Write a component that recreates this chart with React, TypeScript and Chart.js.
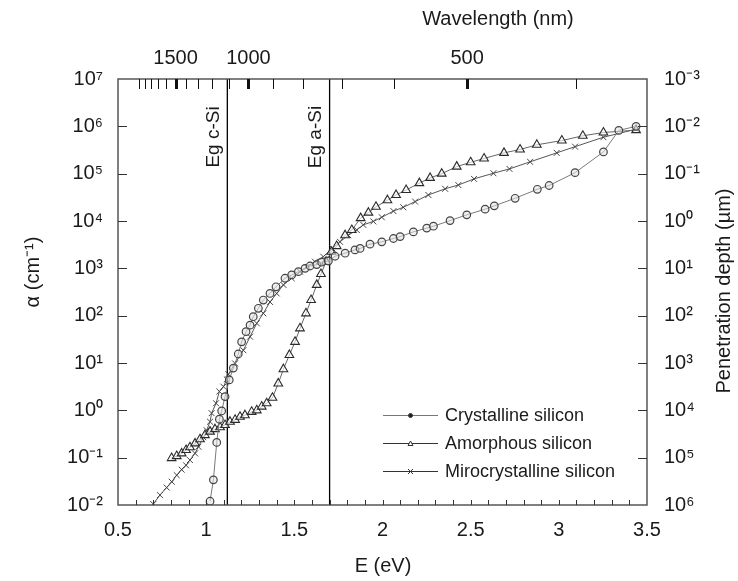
import React, { useEffect, useRef } from 'react';
import { Chart, registerables } from 'chart.js';

Chart.register(...registerables);

// ---------- data ----------
const HC = 1239.84; // eV·nm, photon energy <-> wavelength

const energyTicks = [0.5, 1, 1.5, 2, 2.5, 3, 3.5];
const alphaExponents = [-2, -1, 0, 1, 2, 3, 4, 5, 6, 7];
const depthExponents = [-3, -2, -1, 0, 1, 2, 3, 4, 5, 6];
const wavelengthTicks = [2000, 1900, 1800, 1700, 1600, 1500, 1400, 1300, 1200, 1100, 1000, 900, 800, 700, 600, 500, 400];
const wavelengthLabeled = [1500, 1000, 500];

const seriesNames = ['Crystalline silicon', 'Amorphous silicon', 'Mirocrystalline silicon'];

const cSiEnergy = [1.022, 1.041, 1.06, 1.075, 1.088, 1.107, 1.131, 1.154, 1.182, 1.201, 1.226, 1.249, 1.267, 1.296, 1.324, 1.362, 1.396, 1.447, 1.485, 1.523, 1.561, 1.589, 1.627, 1.655, 1.693, 1.731, 1.788, 1.844, 1.873, 1.929, 1.996, 2.062, 2.1, 2.175, 2.251, 2.289, 2.383, 2.478, 2.582, 2.634, 2.752, 2.878, 2.945, 3.092, 3.253, 3.34, 3.438];
const cSiAlpha = [0.012, 0.034, 0.21, 0.65, 0.97, 1.95, 4.4, 7.8, 15.5, 28, 46, 63, 95, 143, 214, 295, 407, 617, 724, 851, 1000, 1120, 1200, 1350, 1430, 1800, 2090, 2450, 2630, 3240, 3630, 4270, 4680, 5890, 7080, 7760, 10200, 13500, 17800, 20900, 30200, 46800, 56200, 105000, 288000, 820000, 1000000];

const aSiEnergy = [0.804, 0.833, 0.861, 0.886, 0.908, 0.937, 0.965, 0.993, 1.022, 1.05, 1.079, 1.107, 1.135, 1.164, 1.192, 1.22, 1.258, 1.287, 1.315, 1.343, 1.376, 1.409, 1.438, 1.472, 1.504, 1.532, 1.566, 1.595, 1.627, 1.651, 1.68, 1.71, 1.74, 1.788, 1.826, 1.876, 1.92, 1.963, 2.028, 2.077, 2.134, 2.209, 2.27, 2.336, 2.421, 2.5, 2.576, 2.689, 2.78, 2.875, 3.017, 3.136, 3.253, 3.438];
const aSiAlpha = [0.098, 0.108, 0.123, 0.145, 0.166, 0.2, 0.245, 0.3, 0.355, 0.4, 0.44, 0.49, 0.575, 0.63, 0.73, 0.79, 0.93, 1.0, 1.2, 1.41, 1.84, 3.7, 7.4, 14.8, 28, 54, 112, 214, 447, 759, 1380, 2240, 2950, 5010, 6460, 11500, 15000, 20000, 27500, 35500, 45200, 63100, 81300, 100000, 141000, 174000, 209000, 275000, 324000, 407000, 501000, 631000, 741000, 832000];

const ucSiEnergy = [0.7, 0.738, 0.776, 0.805, 0.833, 0.861, 0.886, 0.908, 0.937, 0.956, 0.984, 1.003, 1.022, 1.031, 1.056, 1.075, 1.098, 1.117, 1.126, 1.164, 1.211, 1.249, 1.287, 1.324, 1.362, 1.4, 1.438, 1.485, 1.532, 1.57, 1.617, 1.664, 1.716, 1.759, 1.806, 1.854, 1.891, 1.948, 1.996, 2.062, 2.118, 2.185, 2.26, 2.355, 2.43, 2.519, 2.629, 2.72, 2.837, 2.988, 3.092, 3.253, 3.438];
const ucSiAlpha = [0.0105, 0.0162, 0.0234, 0.031, 0.0427, 0.056, 0.069, 0.089, 0.123, 0.17, 0.27, 0.38, 0.575, 0.87, 1.41, 2.5, 3.16, 4.5, 5.8, 9.8, 18.6, 35.9, 69, 112, 195, 295, 447, 617, 851, 1070, 1380, 1760, 2630, 3630, 5010, 6460, 8300, 9800, 12000, 16200, 19500, 25700, 35500, 47900, 57500, 77600, 102000, 126000, 178000, 275000, 372000, 589000, 871000];

const bandGapEnergy = [1.12, 1.7];
const bandGapLabels = ['Eg c-Si', 'Eg a-Si'];

// ---------- helpers ----------
const SUP: Record<string, string> = { '0': '⁰', '1': '¹', '2': '²', '3': '³', '4': '⁴', '5': '⁵', '6': '⁶', '7': '⁷', '8': '⁸', '9': '⁹', '-': '⁻' };
const pow10Label = (v: number) => '10' + String(Math.round(Math.log10(v))).split('').map((c) => SUP[c] || c).join('');
const toPoints = (xs: number[], ys: number[]) => xs.map((x, i) => ({ x, y: ys[i] }));

const FONT = '"Liberation Sans", Arial, Helvetica, sans-serif';
const TEXT = '#1a1a1a';

function drawMarker(ctx: CanvasRenderingContext2D, kind: string, x: number, y: number, r: number) {
  ctx.beginPath();
  if (kind === 'circle') {
    ctx.arc(x, y, r, 0, Math.PI * 2);
    ctx.fillStyle = '#222';
    ctx.fill();
    ctx.stroke();
  } else if (kind === 'triangle') {
    ctx.moveTo(x, y - r);
    ctx.lineTo(x + r, y + r * 0.8);
    ctx.lineTo(x - r, y + r * 0.8);
    ctx.closePath();
    ctx.fillStyle = '#fff';
    ctx.fill();
    ctx.stroke();
  } else {
    ctx.moveTo(x - r, y - r);
    ctx.lineTo(x + r, y + r);
    ctx.moveTo(x + r, y - r);
    ctx.lineTo(x - r, y + r);
    ctx.stroke();
  }
}

const decorPlugin = {
  id: 'decor',
  afterDatasetsDraw(chart: any) {
    const { ctx, chartArea: a, scales } = chart;
    const xs = scales.x;
    const ys = scales.y;
    const line = (x1: number, y1: number, x2: number, y2: number) => {
      ctx.beginPath();
      ctx.moveTo(x1, y1);
      ctx.lineTo(x2, y2);
      ctx.stroke();
    };
    ctx.save();
    // frame
    ctx.strokeStyle = '#4a4a4a';
    ctx.lineWidth = 1.4;
    ctx.strokeRect(a.left, a.top, a.right - a.left, a.bottom - a.top);
    // inward decade ticks on left/right
    ctx.lineWidth = 1;
    ctx.strokeStyle = '#333';
    for (let e = -1; e <= 6; e++) {
      const py = Math.round(ys.getPixelForValue(Math.pow(10, e))) + 0.5;
      line(a.left, py, a.left + 9, py);
      line(a.right - 9, py, a.right, py);
    }
    // bottom minor ticks every 0.1 eV
    for (let i = 6; i < 35; i++) {
      const px = Math.round(xs.getPixelForValue(i / 10)) + 0.5;
      line(px, a.bottom, px, a.bottom - 5);
    }
    // top wavelength ticks
    ctx.strokeStyle = '#111';
    for (const w of wavelengthTicks) {
      const px = Math.round(xs.getPixelForValue(HC / w)) + 0.5;
      const major = wavelengthLabeled.includes(w);
      ctx.lineWidth = major ? 3 : 1;
      line(px, a.top, px, a.top + 10);
    }
    // band gap labels
    ctx.fillStyle = TEXT;
    ctx.font = '19px ' + FONT;
    ctx.textAlign = 'center';
    ctx.textBaseline = 'middle';
    bandGapEnergy.forEach((e, i) => {
      const px = xs.getPixelForValue(e);
      ctx.save();
      ctx.translate(px - 14, 137);
      ctx.rotate(-Math.PI / 2);
      ctx.fillText(bandGapLabels[i], 0, 0);
      ctx.restore();
    });
    // legend
    const kinds = ['circle', 'triangle', 'cross'];
    const lineColors = ['#777', '#333', '#333'];
    ctx.font = '18px ' + FONT;
    ctx.textAlign = 'left';
    seriesNames.forEach((name, i) => {
      const ly = 415 + i * 28;
      ctx.strokeStyle = lineColors[i];
      ctx.lineWidth = 1.2;
      line(383, ly + 0.5, 438, ly + 0.5);
      ctx.strokeStyle = '#333';
      ctx.lineWidth = 1;
      drawMarker(ctx, kinds[i], 410.5, ly + 0.5, i === 0 ? 2 : 2.5);
      ctx.fillStyle = TEXT;
      ctx.fillText(name, 445, ly + 1);
    });
    // axis titles
    ctx.font = '20px ' + FONT;
    ctx.textAlign = 'center';
    ctx.fillText('Wavelength (nm)', 498, 19);
    ctx.fillText('E (eV)', 383, 566);
    ctx.save();
    ctx.translate(33, 272);
    ctx.rotate(-Math.PI / 2);
    ctx.fillText('α (cm⁻¹)', 0, 0);
    ctx.restore();
    ctx.save();
    ctx.translate(724, 291);
    ctx.rotate(-Math.PI / 2);
    ctx.fillText('Penetration depth (µm)', 0, 0);
    ctx.restore();
    ctx.restore();
  },
};

export default function App() {
  const ref = useRef<HTMLCanvasElement>(null);

  useEffect(() => {
    if (!ref.current) return;
    const tickFont = { family: FONT, size: 20 };
    const chart = new Chart(ref.current, {
      type: 'line',
      data: {
        datasets: [
          {
            label: seriesNames[0],
            data: toPoints(cSiEnergy, cSiAlpha),
            borderColor: '#7a7a7a',
            borderWidth: 1,
            pointStyle: 'circle',
            pointRadius: 3.8,
            pointBorderWidth: 1.2,
            pointBorderColor: '#444',
            pointBackgroundColor: 'rgba(225,225,225,0.55)',
          },
          {
            label: seriesNames[1],
            data: toPoints(aSiEnergy, aSiAlpha),
            borderColor: '#666',
            borderWidth: 1,
            pointStyle: 'triangle',
            pointRadius: 5,
            pointBorderWidth: 1.1,
            pointBorderColor: '#2a2a2a',
            pointBackgroundColor: 'rgba(255,255,255,0.6)',
          },
          {
            label: seriesNames[2],
            data: toPoints(ucSiEnergy, ucSiAlpha),
            borderColor: '#555',
            borderWidth: 1,
            pointStyle: 'crossRot',
            pointRadius: 4.2,
            pointBorderWidth: 1,
            pointBorderColor: '#444',
          },
          ...bandGapEnergy.map((e, i) => ({
            label: bandGapLabels[i],
            data: [
              { x: e, y: 1e-2 },
              { x: e, y: 1e7 },
            ],
            borderColor: '#000',
            borderWidth: 1.3,
            pointRadius: 0,
          })),
        ],
      },
      options: {
        animation: false,
        responsive: true,
        maintainAspectRatio: false,
        layout: { padding: 0 },
        plugins: { legend: { display: false }, tooltip: { enabled: false } },
        scales: {
          x: {
            type: 'linear',
            position: 'bottom',
            min: 0.5,
            max: 3.5,
            grid: { display: false, drawTicks: false },
            border: { display: false },
            afterBuildTicks: (s: any) => {
              s.ticks = energyTicks.map((v) => ({ value: v }));
            },
            afterFit: (s: any) => {
              s.height = 76;
            },
            ticks: { autoSkip: false, maxRotation: 0, padding: 13, color: TEXT, font: tickFont, callback: (v: any) => String(v) },
          },
          x2: {
            type: 'linear',
            position: 'top',
            min: 0.5,
            max: 3.5,
            grid: { display: false, drawTicks: false },
            border: { display: false },
            afterBuildTicks: (s: any) => {
              s.ticks = wavelengthLabeled.map((w) => ({ value: HC / w }));
            },
            afterFit: (s: any) => {
              s.height = 79;
            },
            ticks: {
              autoSkip: false,
              maxRotation: 0,
              padding: 9,
              color: TEXT,
              font: tickFont,
              callback: (_v: any, i: number) => String(wavelengthLabeled[i]),
            },
          },
          y: {
            type: 'logarithmic',
            position: 'left',
            min: 1e-2,
            max: 1e7,
            grid: { display: false, drawTicks: false },
            border: { display: false },
            afterBuildTicks: (s: any) => {
              s.ticks = alphaExponents.map((e) => ({ value: Math.pow(10, e) }));
            },
            afterFit: (s: any) => {
              s.width = 118;
            },
            ticks: { autoSkip: false, padding: 15, color: TEXT, font: tickFont, callback: (v: any) => pow10Label(v) },
          },
          y2: {
            type: 'logarithmic',
            position: 'right',
            reverse: true,
            min: 1e-3,
            max: 1e6,
            grid: { display: false, drawTicks: false },
            border: { display: false },
            afterBuildTicks: (s: any) => {
              s.ticks = depthExponents.map((e) => ({ value: Math.pow(10, e) }));
            },
            afterFit: (s: any) => {
              s.width = 91;
            },
            ticks: { autoSkip: false, padding: 17, color: TEXT, font: tickFont, callback: (v: any) => pow10Label(v) },
          },
        },
      },
      plugins: [decorPlugin],
    } as any);
    return () => chart.destroy();
  }, []);

  return (
    <div style={{ position: 'fixed', left: 0, top: 0, width: 738, height: 581, background: '#fff' }}>
      <canvas ref={ref} />
    </div>
  );
}
